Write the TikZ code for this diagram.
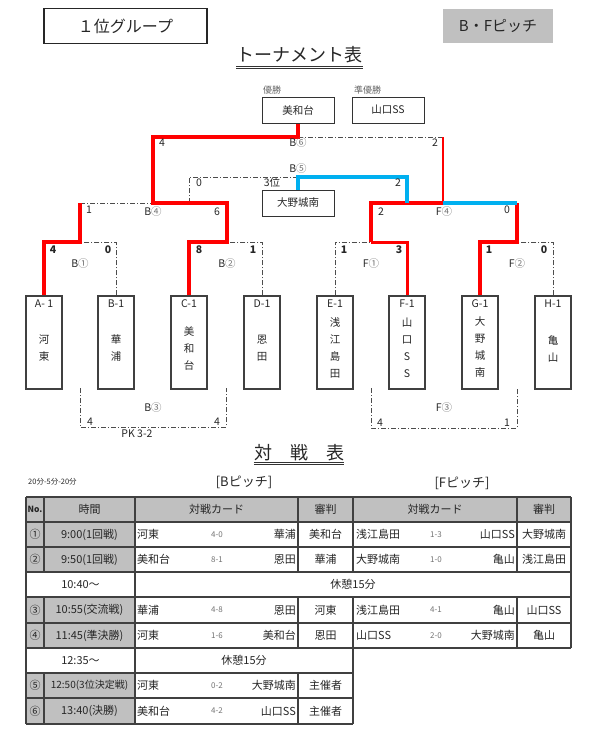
\documentclass[tikz,border=0pt]{standalone}
\usepackage{fontspec}
\setmainfont{Noto Sans CJK JP}
\definecolor{xblue}{HTML}{00B0F0}
\definecolor{xgray}{HTML}{C0C0C0}
\definecolor{txt}{HTML}{262626}
\newcommand\fsz[1]{\fontsize{#1}{#1}\selectfont}
\newcommand\vsz{\fontsize{10.5}{17}\selectfont}
\begin{document}
\begin{tikzpicture}[x=1pt,y=-1pt,
 redln/.style={draw=red,line width=4pt,line join=miter},
 redmid/.style={draw=red,line width=3pt,line join=miter},
 redthin/.style={draw=red,line width=2.5pt},
 blueln/.style={draw=xblue,line width=4pt,line join=miter},
 ddln/.style={draw=black!70,line width=1pt,dash pattern=on 5pt off 2pt on 1pt off 2pt},
 teambox/.style={draw=black!75,line width=1.2pt,minimum width=36pt,minimum height=93pt,inner sep=0pt},
 rbox/.style={draw=black!80,line width=1pt,minimum width=72pt,minimum height=26pt,inner sep=0pt,font=\fsz{10.5},text=txt},
 lbl/.style={font=\fsz{10.5},inner sep=0pt,text=txt},
 glbl/.style={font=\fsz{9},inner sep=0pt,text=black!60},
 nm/.style={font=\vsz,align=center,inner sep=0pt,text=txt},
 tt/.style={font=\fsz{11},inner sep=0pt,text=txt},
 tm/.style={font=\fsz{11},inner sep=0pt,text=txt},
 sc/.style={font=\fsz{8},inner sep=0pt,text=black!55},
 tl/.style={draw=black!75,line width=1.2pt},
]
\useasboundingbox (0,0) rectangle (593,742);

% ---- header ----
\node[draw=black!85,line width=1.2pt,minimum width=163pt,minimum height=35pt,inner sep=0pt,font=\fsz{16},text=txt] (grp) at (125.5,26) {１位グループ};
\node[fill=xgray,minimum width=110pt,minimum height=34pt,inner sep=0pt,font=\fsz{15},text=txt] (pitch) at (498,26) {B・Fピッチ};
\node[font=\fsz{18},inner sep=0pt,text=txt] (ttl) at (299.5,55) {トーナメント表};
\draw[black!80,line width=0.8pt] (ttl.south west |- 0,66) -- (ttl.south east |- 0,66);
\draw[black!80,line width=0.8pt] (ttl.south west |- 0,68.5) -- (ttl.south east |- 0,68.5);

% ---- result boxes ----
\node[glbl,anchor=west] (wl) at (263,90) {優勝};
\node[glbl,anchor=west] (rl) at (354,90) {準優勝};
\node[rbox] (W) at (298,110) {美和台};
\node[rbox] (R) at (388,110) {山口SS};
\node[lbl] (thl) at (272,183) {3位};
\node[rbox] (T) at (298,203) {大野城南};

% ---- team boxes ----
\node[teambox] (A) at (44,342.5) {};
\node[teambox] (B) at (116,342.5) {};
\node[teambox] (C) at (189,342.5) {};
\node[teambox] (D) at (262,342.5) {};
\node[teambox] (E) at (335,342.5) {};
\node[teambox] (F) at (407,342.5) {};
\node[teambox] (G) at (480,342.5) {};
\node[teambox] (H) at (553,342.5) {};
\node[lbl] (Al) at (44,304) {A- 1};
\node[lbl] (Bl) at (116,304) {B-1};
\node[lbl] (Cl) at (189,304) {C-1};
\node[lbl] (Dl) at (262,304) {D-1};
\node[lbl] (El) at (335,304) {E-1};
\node[lbl] (Fl) at (407,304) {F-1};
\node[lbl] (Gl) at (480,304) {G-1};
\node[lbl] (Hl) at (553,304) {H-1};
\node[nm] (An) at (44,348.5) {河\\東};
\node[nm] (Bn) at (116,348.5) {華\\浦};
\node[nm] (Cn) at (189,348) {美\\和\\台};
\node[nm] (Dn) at (262,348.5) {恩\\田};
\node[nm] (En) at (335,347.5) {浅\\江\\島\\田};
\node[nm] (Fn) at (407,347.5) {山\\口\\S\\S};
\node[nm] (Gn) at (480,347.5) {大\\野\\城\\南};
\node[nm] (Hn) at (553,348.5) {亀\\山};

% ---- junctions ----
\coordinate (jB1) at (80,242);
\coordinate (jB2) at (227,242);
\coordinate (jF1) at (371,242);
\coordinate (jF2) at (517,242);
\coordinate (b4l) at (80,203);
\coordinate (jB4) at (153,203);
\coordinate (b4r) at (227,203);
\coordinate (f4l) at (371,203);
\coordinate (jF4) at (443,203);
\coordinate (f4r) at (517,203);
\coordinate (b6l) at (153,137);
\coordinate (jB6) at (298,137);
\coordinate (b6r) at (443,137);
\coordinate (b5a) at (189,203);
\coordinate (b5l) at (189,177);
\coordinate (b5m) at (298,177);
\coordinate (b5r) at (407,177);
\coordinate (b5b) at (407,203);

% ---- bracket lines ----
\draw[ddln] (B.north) |- (jB1);
\draw[ddln] (D.north) |- (jB2);
\draw[ddln] (E.north) |- (jF1);
\draw[ddln] (H.north) |- (jF2);
\draw[ddln] (b4l) -- (jB4);
\draw[ddln] (b5a) -- (b5l) -- (b5m);
\draw[ddln] (jB6) -- (b6r);
\draw[redln] (A.north) |- (jB1) -- (b4l);
\draw[redln] (C.north) |- (jB2) -- (b4r) -- (jB4) -- (b6l) -- (jB6) -- (W.south);
\draw[redmid] (F.north) |- (jF1);
\draw[redln] (jF1) -- (f4l) -- (jF4);
\draw[redthin] (jF4) -- (b6r);
\draw[redln] (G.north) |- (jF2) -- (f4r);
\draw[blueln] (T.north) -- (b5m) -- (b5r) -- (b5b);
\draw[blueln] (jF4) -- (f4r);

% ---- B3 / F3 ----
\coordinate (b3a) at (80,388);
\coordinate (b3b) at (80,427);
\coordinate (b3c) at (226,427);
\coordinate (b3d) at (226,388);
\draw[ddln] (b3a) -- (b3b) -- (b3c) -- (b3d);
\coordinate (f3a) at (371,388);
\coordinate (f3b) at (371,428);
\coordinate (f3c) at (517,428);
\coordinate (f3d) at (517,388);
\draw[ddln] (f3a) -- (f3b) -- (f3c) -- (f3d);

% ---- bracket labels ----
\node[lbl] (s1) at (162,143) {4};
\node[lbl] (s2) at (435,143) {2};
\node[lbl] (m6) at (298,143) {B{\color{black!55}⑥}};
\node[lbl] (m5) at (298,169) {B{\color{black!55}⑤}};
\node[lbl] (s3) at (199,183) {0};
\node[lbl] (s4) at (398,183) {2};
\node[lbl] (s5) at (89,210) {1};
\node[lbl] (m4) at (153,212) {B{\color{black!55}④}};
\node[lbl] (s6) at (217,212) {6};
\node[lbl] (s7) at (381,212) {2};
\node[lbl] (n4) at (444,212) {F{\color{black!55}④}};
\node[lbl] (s8) at (507,210) {0};
\node[lbl] (s9) at (53,250) {\bfseries 4};
\node[lbl] (s10) at (108,250) {\bfseries 0};
\node[lbl] (m1) at (80,264) {B{\color{black!55}①}};
\node[lbl] (s11) at (199,250) {\bfseries 8};
\node[lbl] (s12) at (253,250) {\bfseries 1};
\node[lbl] (m2) at (227,264) {B{\color{black!55}②}};
\node[lbl] (s13) at (344,250) {\bfseries 1};
\node[lbl] (s14) at (399,250) {\bfseries 3};
\node[lbl] (n1) at (371,264) {F{\color{black!55}①}};
\node[lbl] (s15) at (489,250) {\bfseries 1};
\node[lbl] (s16) at (544,250) {\bfseries 0};
\node[lbl] (n2) at (517,264) {F{\color{black!55}②}};
\node[lbl] (m3) at (153,408) {B{\color{black!55}③}};
\node[lbl] (n3) at (444,408) {F{\color{black!55}③}};
\node[lbl] (s17) at (90,422) {4};
\node[lbl] (s18) at (217,422) {4};
\node[lbl] (s19) at (380,423) {4};
\node[lbl] (s20) at (507,423) {1};
\node[lbl] (pk) at (137,434) {PK 3-2};

% ---- 対戦表 title ----
\node[font=\fsz{18},inner sep=0pt,text=txt] (tt2) at (299,453) {対　戦　表};
\draw[black!80,line width=0.8pt] (tt2.west |- 0,462) -- (tt2.east |- 0,462);
\draw[black!80,line width=0.8pt] (tt2.west |- 0,464.5) -- (tt2.east |- 0,464.5);
\node[font=\fsz{7.5},inner sep=0pt,text=txt,anchor=west] (rule) at (28,482) {20分-5分-20分};
\node[font=\fsz{13},inner sep=0pt,text=txt] (bp) at (244,482) {[Bピッチ]};
\node[font=\fsz{13},inner sep=0pt,text=txt] (fp) at (462,483) {[Fピッチ]};

% ---- table fills ----
\fill[xgray] (26,497) rectangle (571,522);
\fill[xgray] (26,522) rectangle (135,572);
\fill[xgray] (26,597) rectangle (135,648);
\fill[xgray] (26,673) rectangle (135,724);

% ---- table lines ----
\foreach \y in {497,522,547,572,597,623,648} \draw[tl] (26,\y) -- (571,\y);
\foreach \y in {673,698,724} \draw[tl] (26,\y) -- (353,\y);
\draw[tl] (26,497) -- (26,724);
\draw[tl] (135,497) -- (135,724);
\foreach \x in {44,298} {\draw[tl] (\x,497) -- (\x,572); \draw[tl] (\x,597) -- (\x,648); \draw[tl] (\x,673) -- (\x,724);}
\draw[tl] (353,497) -- (353,572);
\draw[tl] (353,597) -- (353,724);
\draw[tl] (517,497) -- (517,572);
\draw[tl] (517,597) -- (517,648);
\draw[tl] (571,497) -- (571,648);

% ---- table header ----
\node[font=\fsz{8.5}\bfseries,inner sep=0pt,text=txt] (h1) at (35,509.5) {No.};
\node[tt] (h2) at (89.5,509.5) {時間};
\node[tt] (h3) at (216.5,509.5) {対戦カード};
\node[tt] (h4) at (325.5,509.5) {審判};
\node[tt] (h5) at (435,509.5) {対戦カード};
\node[tt] (h6) at (544,509.5) {審判};

% row 1
\node[tt] (a1) at (35,534.5) {①};
\node[tm] (a2) at (89.5,534.5) {9:00(1回戦)};
\node[tt,anchor=west] (a3) at (137,534.5) {河東};
\node[sc] (a4) at (217,534.5) {4-0};
\node[tt,anchor=east] (a5) at (296,534.5) {華浦};
\node[tt] (a6) at (325.5,534.5) {美和台};
\node[tt,anchor=west] (a7) at (356,534.5) {浅江島田};
\node[sc] (a8) at (436,534.5) {1-3};
\node[tt,anchor=east] (a9) at (515,534.5) {山口SS};
\node[tt] (a10) at (544,534.5) {大野城南};
% row 2
\node[tt] (b1) at (35,559.5) {②};
\node[tm] (b2) at (89.5,559.5) {9:50(1回戦)};
\node[tt,anchor=west] (b3) at (137,559.5) {美和台};
\node[sc] (b4) at (217,559.5) {8-1};
\node[tt,anchor=east] (b5) at (296,559.5) {恩田};
\node[tt] (b6) at (325.5,559.5) {華浦};
\node[tt,anchor=west] (b7) at (356,559.5) {大野城南};
\node[sc] (b8) at (436,559.5) {1-0};
\node[tt,anchor=east] (b9) at (515,559.5) {亀山};
\node[tt] (b10) at (544,559.5) {浅江島田};
% break 1
\node[tm] (c1) at (80.5,584.5) {10:40～};
\node[tt] (c2) at (353,584.5) {休憩15分};
% row 3
\node[tt] (d1) at (35,610) {③};
\node[tm] (d2) at (89.5,610) {10:55(交流戦)};
\node[tt,anchor=west] (d3) at (137,610) {華浦};
\node[sc] (d4) at (217,610) {4-8};
\node[tt,anchor=east] (d5) at (296,610) {恩田};
\node[tt] (d6) at (325.5,610) {河東};
\node[tt,anchor=west] (d7) at (356,610) {浅江島田};
\node[sc] (d8) at (436,610) {4-1};
\node[tt,anchor=east] (d9) at (515,610) {亀山};
\node[tt] (d10) at (544,610) {山口SS};
% row 4
\node[tt] (e1) at (35,635.5) {④};
\node[tm] (e2) at (89.5,635.5) {11:45(準決勝)};
\node[tt,anchor=west] (e3) at (137,635.5) {河東};
\node[sc] (e4) at (217,635.5) {1-6};
\node[tt,anchor=east] (e5) at (296,635.5) {美和台};
\node[tt] (e6) at (325.5,635.5) {恩田};
\node[tt,anchor=west] (e7) at (356,635.5) {山口SS};
\node[sc] (e8) at (436,635.5) {2-0};
\node[tt,anchor=east] (e9) at (515,635.5) {大野城南};
\node[tt] (e10) at (544,635.5) {亀山};
% break 2
\node[tm] (f1) at (80.5,660.5) {12:35～};
\node[tt] (f2) at (244,660.5) {休憩15分};
% row 5
\node[tt] (g1) at (35,685.5) {⑤};
\node[font=\fsz{10},inner sep=0pt,text=txt] (g2) at (89.5,685.5) {12:50(3位決定戦)};
\node[tt,anchor=west] (g3) at (137,685.5) {河東};
\node[sc] (g4) at (217,685.5) {0-2};
\node[tt,anchor=east] (g5) at (296,685.5) {大野城南};
\node[tt] (g6) at (325.5,685.5) {主催者};
% row 6
\node[tt] (k1) at (35,711) {⑥};
\node[tm] (k2) at (89.5,711) {13:40(決勝)};
\node[tt,anchor=west] (k3) at (137,711) {美和台};
\node[sc] (k4) at (217,711) {4-2};
\node[tt,anchor=east] (k5) at (296,711) {山口SS};
\node[tt] (k6) at (325.5,711) {主催者};
\end{tikzpicture}
\end{document}
